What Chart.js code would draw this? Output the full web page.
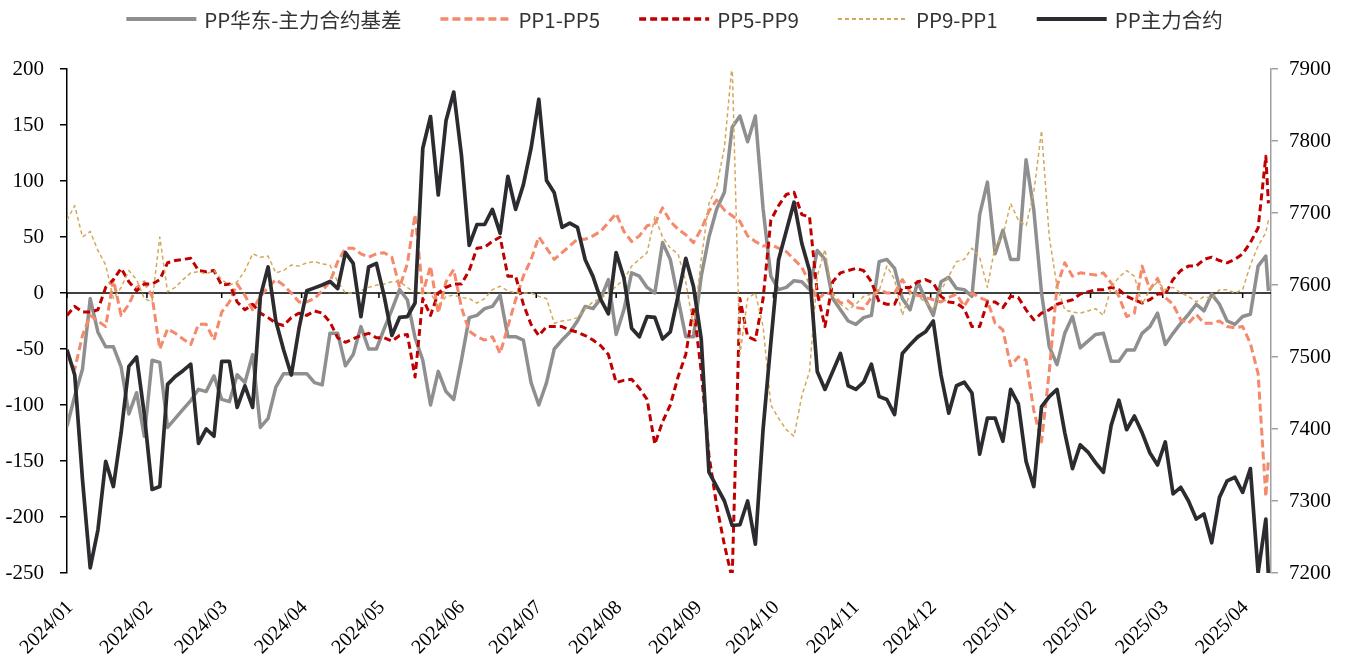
<!DOCTYPE html>
<html><head><meta charset="utf-8">
<script src="https://cdn.jsdelivr.net/npm/chart.js@4.4.1/dist/chart.umd.min.js"></script>
<style>html,body{margin:0;padding:0;background:#fff;}</style>
</head><body>
<canvas id="c" width="1349" height="655"></canvas>
<script>
const dates = [
'2024-01-01','2024-01-04','2024-01-07','2024-01-10','2024-01-13','2024-01-16','2024-01-19','2024-01-22','2024-01-25','2024-01-28',
'2024-01-31','2024-02-03','2024-02-06','2024-02-09','2024-02-12','2024-02-15','2024-02-18','2024-02-21','2024-02-24','2024-02-27',
'2024-03-01','2024-03-04','2024-03-07','2024-03-10','2024-03-13','2024-03-16','2024-03-19','2024-03-22','2024-03-25','2024-03-28',
'2024-03-31','2024-04-03','2024-04-06','2024-04-09','2024-04-12','2024-04-15','2024-04-18','2024-04-21','2024-04-24','2024-04-27',
'2024-04-30','2024-05-03','2024-05-06','2024-05-09','2024-05-12','2024-05-15','2024-05-18','2024-05-21','2024-05-24','2024-05-27',
'2024-05-30','2024-06-02','2024-06-05','2024-06-08','2024-06-11','2024-06-14','2024-06-17','2024-06-20','2024-06-23','2024-06-26',
'2024-06-29','2024-07-02','2024-07-05','2024-07-08','2024-07-11','2024-07-14','2024-07-17','2024-07-20','2024-07-23','2024-07-26',
'2024-07-29','2024-08-01','2024-08-04','2024-08-07','2024-08-10','2024-08-13','2024-08-16','2024-08-19','2024-08-22','2024-08-25',
'2024-08-28','2024-08-31','2024-09-03','2024-09-06','2024-09-09','2024-09-12','2024-09-15','2024-09-18','2024-09-21','2024-09-24',
'2024-09-27','2024-09-30','2024-10-03','2024-10-06','2024-10-09','2024-10-12','2024-10-15','2024-10-18','2024-10-21','2024-10-24',
'2024-10-27','2024-10-30','2024-11-02','2024-11-05','2024-11-08','2024-11-11','2024-11-14','2024-11-17','2024-11-20','2024-11-23',
'2024-11-26','2024-11-29','2024-12-02','2024-12-05','2024-12-08','2024-12-11','2024-12-14','2024-12-17','2024-12-20','2024-12-23',
'2024-12-26','2024-12-29','2025-01-01','2025-01-04','2025-01-07','2025-01-10','2025-01-13','2025-01-16','2025-01-19','2025-01-22',
'2025-01-25','2025-01-28','2025-01-31','2025-02-03','2025-02-06','2025-02-09','2025-02-12','2025-02-15','2025-02-18','2025-02-21',
'2025-02-24','2025-02-27','2025-03-02','2025-03-05','2025-03-08','2025-03-11','2025-03-14','2025-03-17','2025-03-20','2025-03-23',
'2025-03-26','2025-03-29','2025-04-01','2025-04-04','2025-04-07','2025-04-10','2025-04-11'
];

const monthTicks = ['2024-01-01','2024-02-01','2024-03-01','2024-04-01','2024-05-01','2024-06-01','2024-07-01','2024-08-01',
  '2024-09-01','2024-10-01','2024-11-01','2024-12-01','2025-01-01','2025-02-01','2025-03-01','2025-04-01'];
const monthLabels = ['2024/01','2024/02','2024/03','2024/04','2024/05','2024/06','2024/07','2024/08',
  '2024/09','2024/10','2024/11','2024/12','2025/01','2025/02','2025/03','2025/04'];

const leftTicks = [-250,-200,-150,-100,-50,0,50,100,150,200];
const rightTicks = [7200,7300,7400,7500,7600,7700,7800,7900];

// PP华东-主力合约基差
const basis = [
-119,-92,-68,-5,-35,-48,-48,-66,-108,-89,
-128,-60,-62,-120,-112,-104,-96,-86,-88,-74,
-95,-97,-73,-80,-55,-120,-112,-84,-72,-72,
-72,-72,-80,-82,-36,-36,-65,-55,-30,-50,
-50,-32,-15,3,-6,-40,-60,-100,-70,-88,
-95,-60,-22,-20,-14,-12,-2,-39,-39,-42,
-80,-100,-80,-50,-42,-35,-25,-12,-14,-5,
12,-37,-15,18,15,5,0,45,30,-5,
-39,-39,15,50,75,90,148,158,135,158,
75,15,3,5,11,10,3,38,30,-5,
-15,-25,-28,-22,-20,28,30,22,-5,-15,
10,-6,-20,10,14,4,3,-3,70,99,
35,56,30,30,119,74,0,-48,-64,-36,
-21,-49,-43,-37,-36,-61,-61,-51,-51,-36,
-30,-18,-46,-36,-27,-19,-10,-16,-1,-10,
-25,-28,-21,-19,24,33,2
];

// PP1-PP5
const pp1pp5 = [
-55,-68,-38,-20,-25,-30,12,-20,-10,5,
10,-3,-50,-32,-36,-41,-46,-28,-28,-42,
-17,-8,8,-2,-15,-3,5,12,7,0,
-8,-8,-5,2,10,28,40,40,35,32,
35,36,32,5,26,70,0,24,-18,10,
21,-13,-34,-39,-42,-39,-54,-30,-6,15,
30,50,40,30,36,42,48,48,51,55,
63,71,55,46,51,60,62,76,64,57,
52,45,57,73,83,74,69,64,51,46,
42,43,40,37,30,23,9,-6,0,-1,
-9,-7,-13,-14,-4,3,0,0,12,1,
-2,-4,-6,-8,-4,-1,-12,0,-4,-7,
-27,-33,-65,-57,-60,-105,-133,-70,6,27,
15,18,17,16,18,9,-3,-21,-18,24,
3,13,-4,-10,-24,-27,-19,-27,-27,-25,
-30,-31,-30,-45,-72,-182,-148
];

// PP5-PP9
const pp5pp9 = [
-20,-12,-17,-17,-15,5,12,22,10,2,
8,8,12,27,29,30,31,20,19,20,
7,8,-8,-15,-10,-18,-22,-27,-29,-22,
-18,-20,-16,-18,-26,-40,-44,-41,-38,-36,
-40,-40,-43,-38,-37,-75,-5,-20,0,5,
8,8,20,40,41,46,50,15,15,-10,
-28,-38,-30,-30,-30,-33,-35,-38,-42,-47,
-55,-80,-78,-77,-85,-95,-135,-115,-100,-75,
-55,-12,-70,-145,-190,-225,-255,-5,-39,-42,
-5,65,78,88,90,70,68,0,-30,10,
18,20,22,20,10,-8,-10,-10,5,5,
10,12,9,-3,-8,-9,-14,-30,-30,-8,
-8,-13,-3,-4,-15,-24,-18,-15,-10,-8,
-6,-1,1,3,3,5,3,-3,-6,-9,
-6,-1,-1,12,20,24,24,30,32,29,
27,30,35,45,58,122,80
];

// PP9-PP1
const pp9pp1 = [
65,78,50,55,38,25,-5,5,20,12,
-5,-8,50,1,5,12,18,19,17,20,
12,7,10,20,35,32,33,18,20,25,
24,27,28,26,25,10,0,0,2,5,
7,8,10,10,5,0,0,0,-12,-3,
-2,-4,-5,-9,-5,3,6,2,0,0,
0,-3,-5,-27,-25,-24,-22,-14,-8,-5,
0,6,12,24,30,36,68,50,40,35,
10,-30,30,80,95,130,205,-55,-5,0,
-30,-100,-112,-122,-128,-92,-70,15,39,-3,
-10,-15,-10,-3,-1,2,24,12,-20,0,
-3,-8,-15,2,15,28,30,40,32,5,
42,51,80,65,60,90,145,50,6,-15,
-17,-18,-16,-14,-20,5,14,20,15,-10,
3,10,3,5,0,-3,-8,-3,-5,3,
3,0,3,25,42,54,65
];

// PP主力合约 (right axis)
const ppMain = [
7510,7475,7330,7207,7260,7355,7320,7395,7487,7500,
7420,7316,7320,7462,7473,7481,7490,7380,7400,7390,
7494,7494,7430,7460,7430,7584,7625,7550,7510,7475,
7540,7592,7596,7600,7605,7595,7645,7630,7556,7625,
7630,7585,7530,7555,7556,7575,7790,7834,7725,7828,
7868,7780,7655,7684,7684,7705,7672,7751,7705,7739,
7790,7858,7745,7728,7680,7686,7680,7635,7612,7580,
7560,7645,7610,7540,7528,7556,7555,7525,7535,7585,
7637,7598,7525,7340,7320,7300,7266,7267,7300,7240,
7400,7520,7635,7675,7715,7658,7620,7480,7455,7480,
7505,7460,7455,7465,7490,7445,7441,7420,7505,7517,
7528,7535,7550,7475,7422,7460,7465,7450,7365,7415,
7415,7383,7455,7435,7355,7320,7431,7445,7455,7395,
7345,7378,7368,7353,7340,7405,7440,7399,7418,7395,
7367,7350,7382,7310,7319,7300,7275,7282,7242,7305,
7328,7333,7312,7345,7200,7275,7195
];

const DAY0 = Date.UTC(2024, 0, 1);
const dayOf = s => (Date.UTC(+s.slice(0,4), +s.slice(5,7) - 1, +s.slice(8,10)) - DAY0) / 86400000;
const pts = vals => dates.map((d, i) => ({ x: dayOf(d), y: vals[i] }));
const monthDays = monthTicks.map(dayOf);

const SERIF = 'Liberation Serif';
const SANS = '"Noto Sans CJK SC"';

Chart.defaults.font.family = SERIF;

const axisDecor = {
  id: 'axisDecor',
  beforeDatasetsDraw(chart) {
    const { ctx, chartArea: a, scales: { x, y } } = chart;
    const y0 = y.getPixelForValue(0);
    ctx.save();
    ctx.strokeStyle = '#000';
    ctx.lineWidth = 1.5;
    ctx.beginPath(); ctx.moveTo(a.left, y0); ctx.lineTo(a.right, y0); ctx.stroke();
    monthDays.forEach(v => {
      const px = x.getPixelForValue(v);
      ctx.beginPath(); ctx.moveTo(px, y0); ctx.lineTo(px, y0 + 5); ctx.stroke();
    });
    ctx.restore();
  }
};

const topLegend = {
  id: 'topLegend',
  afterDraw(chart) {
    const ctx = chart.ctx;
    const lineW = 70, gapText = 8, gapItem = 39, cy = 19;
    ctx.save();
    ctx.font = '20.5px ' + SANS;
    const items = chart.data.datasets.map(ds => ({ ds, w: ctx.measureText(ds.label).width }));
    const total = items.reduce((s, it) => s + lineW + gapText + it.w, 0) + gapItem * (items.length - 1);
    let x = (chart.width - total) / 2;
    items.forEach(it => {
      ctx.strokeStyle = it.ds.borderColor;
      ctx.lineWidth = it.ds.borderWidth + 0.5;
      ctx.setLineDash(it.ds.borderDash || []);
      ctx.beginPath(); ctx.moveTo(x, cy); ctx.lineTo(x + lineW, cy); ctx.stroke();
      ctx.setLineDash([]);
      ctx.fillStyle = '#333';
      ctx.textBaseline = 'middle';
      ctx.textAlign = 'left';
      ctx.fillText(it.ds.label, x + lineW + gapText, cy + 1);
      x += lineW + gapText + it.w + gapItem;
    });
    ctx.restore();
  }
};

const common = { pointRadius: 0, pointHoverRadius: 0, tension: 0, fill: false, borderJoinStyle: 'round' };

new Chart(document.getElementById('c'), {
  type: 'line',
  data: {
    datasets: [
      { ...common, label: 'PP华东-主力合约基差', data: pts(basis), yAxisID: 'y', borderColor: '#8f8f8f', borderWidth: 3.5, order: 5 },
      { ...common, label: 'PP1-PP5', data: pts(pp1pp5), yAxisID: 'y', borderColor: '#f4896b', borderWidth: 3, borderDash: [8, 4], order: 4 },
      { ...common, label: 'PP5-PP9', data: pts(pp5pp9), yAxisID: 'y', borderColor: '#c00000', borderWidth: 3, borderDash: [7, 4], order: 3 },
      { ...common, label: 'PP9-PP1', data: pts(pp9pp1), yAxisID: 'y', borderColor: '#d4a85a', borderWidth: 1.5, borderDash: [4, 3], order: 2 },
      { ...common, label: 'PP主力合约', data: pts(ppMain), yAxisID: 'y1', borderColor: '#2b2b30', borderWidth: 3.7, order: 1 }
    ]
  },
  options: {
    responsive: false,
    animation: false,
    devicePixelRatio: 1,
    layout: { padding: { top: 69, left: 0, right: 0, bottom: 0 } },
    plugins: { legend: { display: false }, tooltip: { enabled: false } },
    scales: {
      x: {
        type: 'linear', min: 0, max: 467,
        afterBuildTicks: s => { s.ticks = monthDays.map(v => ({ value: v })); },
        afterFit: s => { s.height = 82; },
        grid: { display: false },
        border: { display: false },
        ticks: {
          autoSkip: false, minRotation: 45, maxRotation: 45, color: '#000', padding: 15, labelOffset: 3,
          font: { family: SERIF, size: 20 },
          callback: (v, i) => monthLabels[i]
        }
      },
      y: {
        position: 'left', min: -250, max: 200,
        afterBuildTicks: s => { s.ticks = leftTicks.map(v => ({ value: v })); },
        afterFit: s => { s.width = 67; },
        grid: { drawOnChartArea: false, color: '#000', tickColor: '#000', tickLength: 7, lineWidth: 1.5 },
        border: { color: '#000', width: 1.5 },
        ticks: { color: '#000', padding: 16, font: { family: SERIF, size: 21 }, callback: v => String(v) }
      },
      y1: {
        position: 'right', min: 7200, max: 7900,
        afterBuildTicks: s => { s.ticks = rightTicks.map(v => ({ value: v })); },
        afterFit: s => { s.width = 78; },
        grid: { drawOnChartArea: false, color: '#a0a0a0', tickColor: '#a0a0a0', tickLength: 7, lineWidth: 1.5 },
        border: { color: '#a0a0a0', width: 1.5 },
        ticks: { color: '#000', padding: 11, font: { family: SERIF, size: 21 }, callback: v => String(v) }
      }
    }
  },
  plugins: [axisDecor, topLegend]
});
</script>
</body></html>
